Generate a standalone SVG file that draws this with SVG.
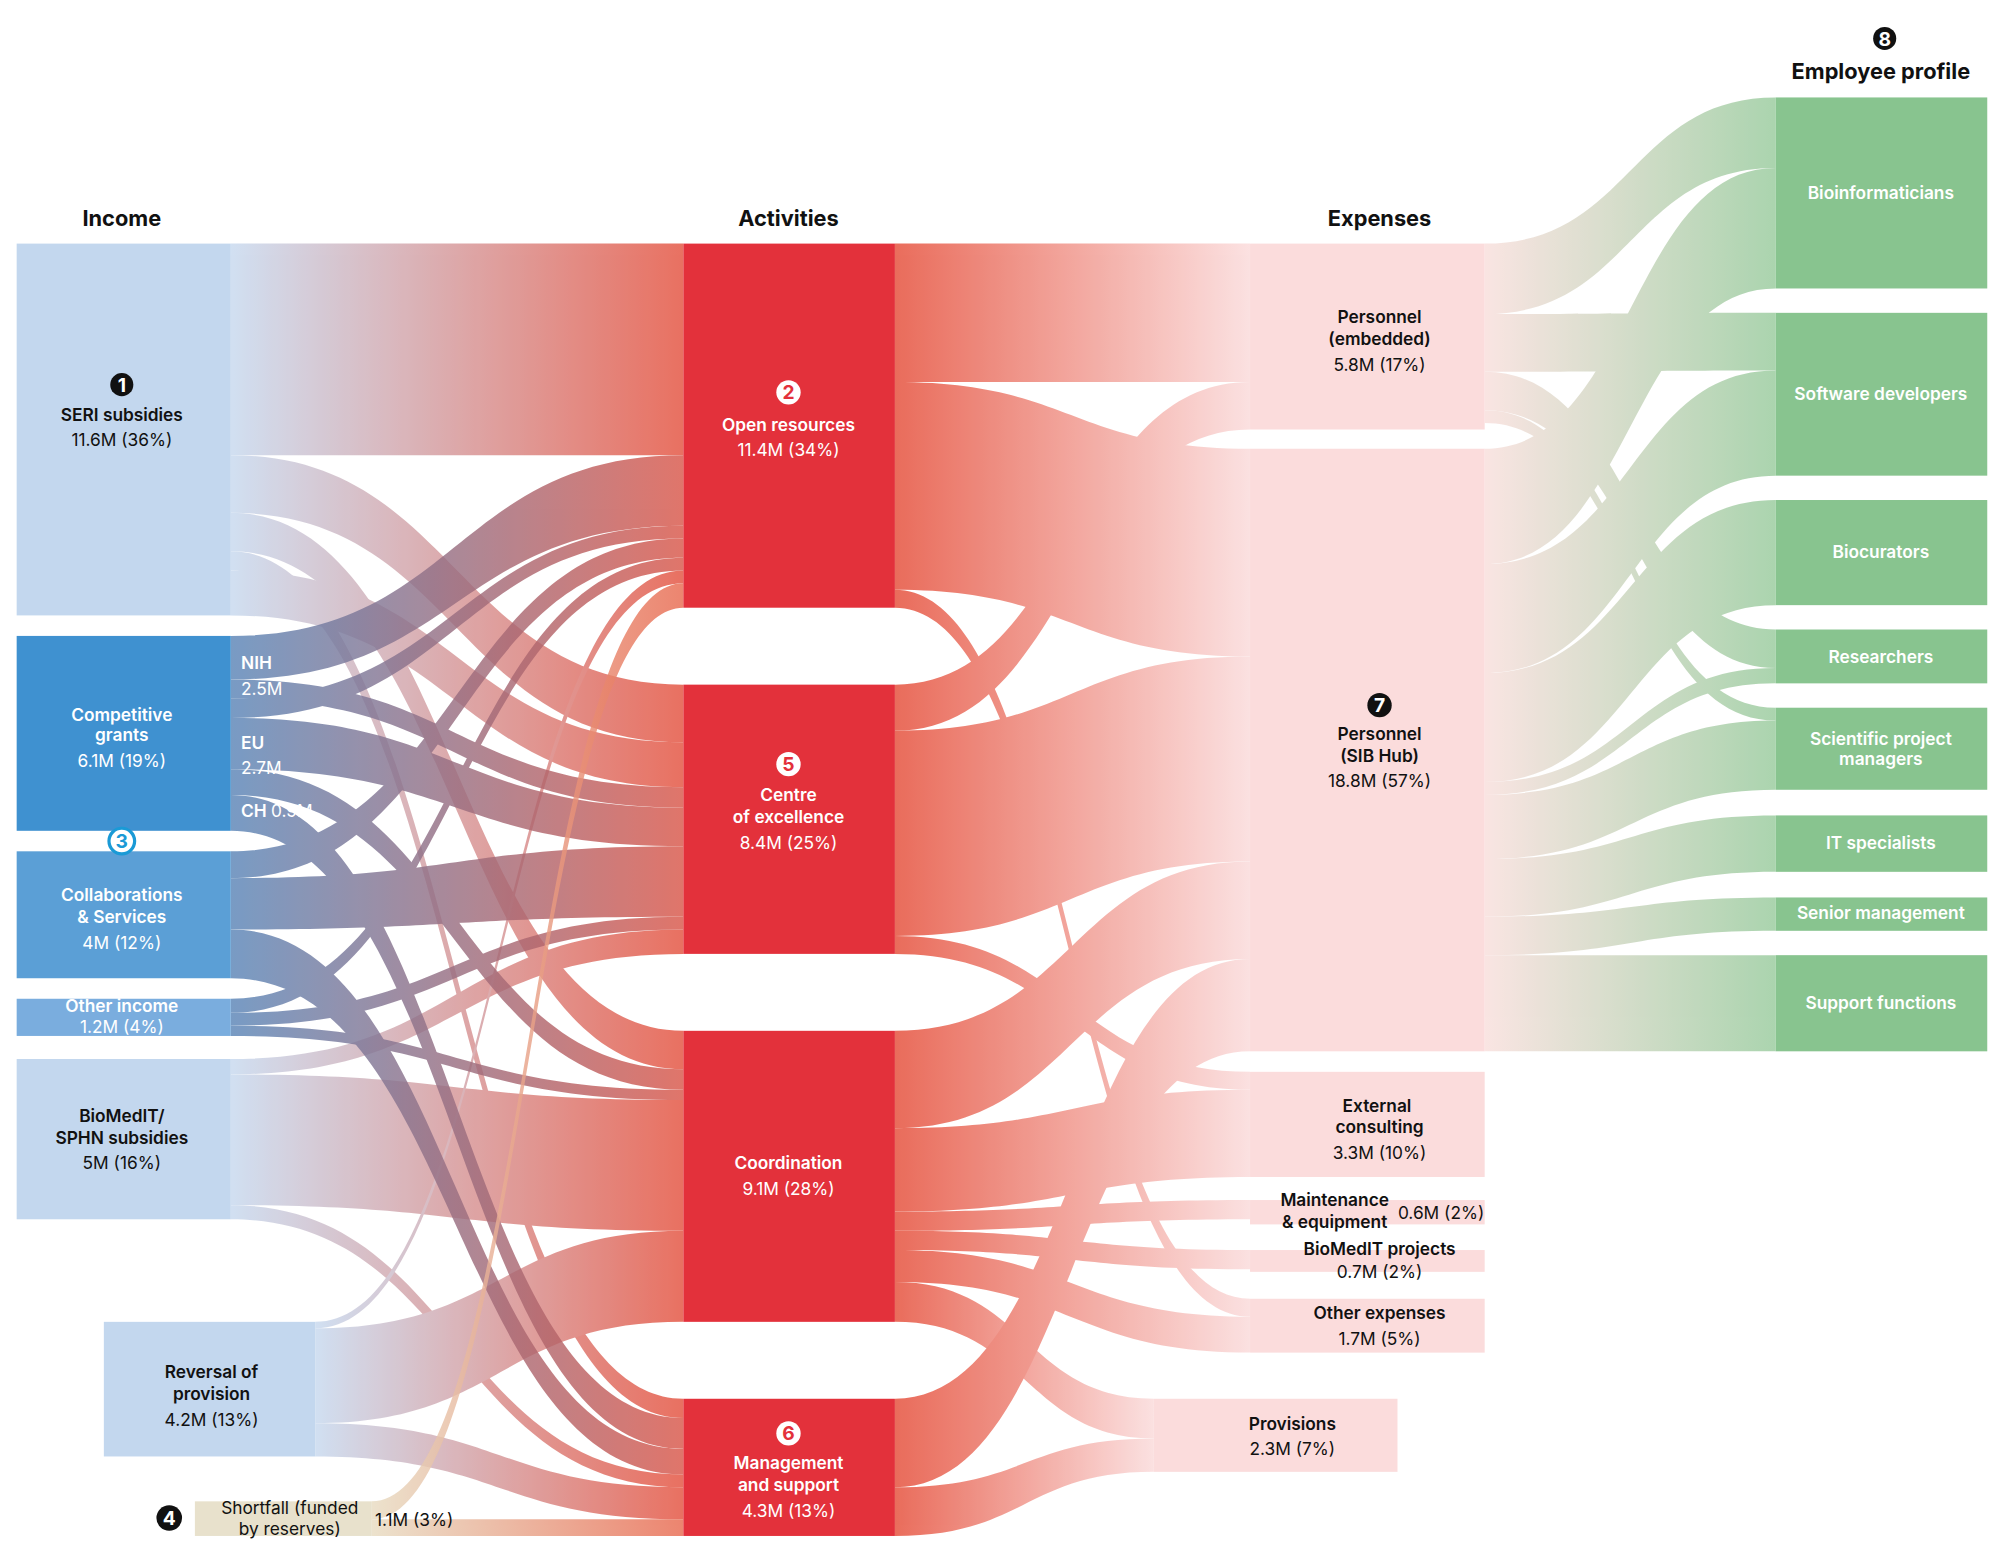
<svg xmlns="http://www.w3.org/2000/svg" width="2000" height="1560" viewBox="0 0 2000 1560">
<style>
text{font-family:Inter,"Liberation Sans",Arial,sans-serif;text-anchor:middle}
.h{font-size:17px;font-weight:700;fill:#111}
.l{font-size:13.5px;font-weight:600;fill:#111}
.v{font-size:13.5px;fill:#111}
.lw{font-size:13.5px;font-weight:600;fill:#fff}
.vw{font-size:13.5px;fill:#fff}
.fi{opacity:.82}
.fe{opacity:.85}
.fp{opacity:.75}
.nb{font-size:15px;font-weight:700;fill:#fff}
.nr{font-size:15px;font-weight:700;fill:#e3313b}
</style>
<defs>
<linearGradient id="gL"><stop offset="0" stop-color="#c7d9ef"/><stop offset="1" stop-color="#e4523f"/></linearGradient>
<linearGradient id="gD"><stop offset="0" stop-color="#5b86b8"/><stop offset="1" stop-color="#d9574a"/></linearGradient>
<linearGradient id="gS"><stop offset="0" stop-color="#e8dcc2"/><stop offset="1" stop-color="#e86a50"/></linearGradient>
<linearGradient id="gE"><stop offset="0" stop-color="#e6533f"/><stop offset="1" stop-color="#fbdcdc"/></linearGradient>
<linearGradient id="gP"><stop offset="0" stop-color="#f8dcd9"/><stop offset="1" stop-color="#8fc694"/></linearGradient>
</defs>
<g transform="scale(1.2821)">
<g id="connectors">
<g fill="url(#gL)" class="fi">
<path d="M180 190 L533 190 L533 355 L180 355 Z"/>
<path d="M180 355 C356 355 356 534 533 534 L533 579 C356 579 356 400 180 400 Z"/>
<path d="M180 400 C356 400 356 804 533 804 L533 834 C356 834 356 430 180 430 Z"/>
<path d="M180 430 C356 430 356 1091 533 1091 L533 1106 C356 1106 356 445 180 445 Z"/>
<path d="M180 445 C356 445 356 579 533 579 L533 614 C356 614 356 480 180 480 Z"/>
<path d="M180 826 C356 826 356 725 533 725 L533 744 C356 744 356 838 180 838 Z"/>
<path d="M180 838 C356 838 356 858 533 858 L533 960 C356 960 356 940 180 940 Z"/>
<path d="M180 940 C356 940 356 1150 533 1150 L533 1160 C356 1160 356 951 180 951 Z"/>
<path d="M246 1031 C390 1031 390 445 533 445 L533 455 C390 455 390 1036 246 1036 Z"/>
<path d="M246 1036 C390 1036 390 960 533 960 L533 1031 C390 1031 390 1110 246 1110 Z"/>
<path d="M246 1110 C390 1110 390 1160 533 1160 L533 1185 C390 1185 390 1136 246 1136 Z"/>
</g>
<g fill="url(#gD)" class="fi">
<path d="M180 496 C356 496 356 355 533 355 L533 410 C356 410 356 530 180 530 Z"/>
<path d="M180 530 C356 530 356 614 533 614 L533 630 C356 630 356 545 180 545 Z"/>
<path d="M180 545 C356 545 356 410 533 410 L533 420 C356 420 356 560 180 560 Z"/>
<path d="M180 560 C356 560 356 630 533 630 L533 660 C356 660 356 600 180 600 Z"/>
<path d="M180 600 C356 600 356 834 533 834 L533 850 C356 850 356 620 180 620 Z"/>
<path d="M180 620 C356 620 356 1106 533 1106 L533 1130 C356 1130 356 648 180 648 Z"/>
<path d="M180 664 C356 664 356 420 533 420 L533 435 C356 435 356 685 180 685 Z"/>
<path d="M180 685 C356 685 356 660 533 660 L533 715 C356 715 356 725 180 725 Z"/>
<path d="M180 725 C356 725 356 1130 533 1130 L533 1150 C356 1150 356 763 180 763 Z"/>
<path d="M180 779 C356 779 356 435 533 435 L533 445 C356 445 356 790 180 790 Z"/>
<path d="M180 790 C356 790 356 715 533 715 L533 725 C356 725 356 800 180 800 Z"/>
<path d="M180 800 C356 800 356 850 533 850 L533 858 C356 858 356 808 180 808 Z"/>
</g>
<g fill="url(#gS)" class="fi">
<path d="M290 1171 C412 1171 412 455 533 455 L533 474 C412 474 412 1185 290 1185 Z"/>
<path d="M290 1185 C412 1185 412 1185 533 1185 L533 1198 C412 1198 412 1198 290 1198 Z"/>
</g>
<g fill="url(#gE)" class="fe">
<path d="M698 190 L975 190 L975 298 L698 298 Z"/>
<path d="M698 298 C836 298 836 350 975 350 L975 512 C836 512 836 460 698 460 Z"/>
<path d="M698 460 C836 460 836 1013 975 1013 L975 1027 C836 1027 836 474 698 474 Z"/>
<path d="M698 534 C836 534 836 298 975 298 L975 335 C836 335 836 570 698 570 Z"/>
<path d="M698 570 C836 570 836 512 975 512 L975 672 C836 672 836 730 698 730 Z"/>
<path d="M698 730 C836 730 836 836 975 836 L975 850 C836 850 836 744 698 744 Z"/>
<path d="M698 804 C836 804 836 672 975 672 L975 748 C836 748 836 880 698 880 Z"/>
<path d="M698 880 C836 880 836 850 975 850 L975 918 C836 918 836 945 698 945 Z"/>
<path d="M698 945 C836 945 836 936 975 936 L975 951 C836 951 836 960 698 960 Z"/>
<path d="M698 960 C836 960 836 975 975 975 L975 990 C836 990 836 975 698 975 Z"/>
<path d="M698 975 C836 975 836 1027 975 1027 L975 1055 C836 1055 836 1000 698 1000 Z"/>
<path d="M698 1000 C800 1000 800 1091 900 1091 L900 1122 C800 1122 800 1031 698 1031 Z"/>
<path d="M698 1091 C836 1091 836 748 975 748 L975 820 C836 820 836 1160 698 1160 Z"/>
<path d="M698 1160 C800 1160 800 1122 900 1122 L900 1148 C800 1148 800 1198 698 1198 Z"/>
</g>
<g fill="url(#gP)" class="fp">
<path d="M1158 190 C1272 190 1272 76 1385 76 L1385 131 C1272 131 1272 245 1158 245 Z"/>
<path d="M1158 245 C1272 245 1272 244 1385 244 L1385 289 C1272 289 1272 290 1158 290 Z"/>
<path d="M1158 290 C1272 290 1272 491 1385 491 L1385 521 C1272 521 1272 320 1158 320 Z"/>
<path d="M1158 320 C1272 320 1272 552 1385 552 L1385 562 C1272 562 1272 330 1158 330 Z"/>
<path d="M1158 350 C1272 350 1272 131 1385 131 L1385 225 C1272 225 1272 440 1158 440 Z"/>
<path d="M1158 440 C1272 440 1272 289 1385 289 L1385 371 C1272 371 1272 525 1158 525 Z"/>
<path d="M1158 525 C1272 525 1272 390 1385 390 L1385 472 C1272 472 1272 610 1158 610 Z"/>
<path d="M1158 610 C1272 610 1272 521 1385 521 L1385 533 C1272 533 1272 620 1158 620 Z"/>
<path d="M1158 620 C1272 620 1272 562 1385 562 L1385 616 C1272 616 1272 670 1158 670 Z"/>
<path d="M1158 670 C1272 670 1272 636 1385 636 L1385 680 C1272 680 1272 715 1158 715 Z"/>
<path d="M1158 715 C1272 715 1272 700 1385 700 L1385 726 C1272 726 1272 745 1158 745 Z"/>
<path d="M1158 745 C1272 745 1272 745 1385 745 L1385 820 C1272 820 1272 820 1158 820 Z"/>
</g>
</g>
<text class="h" x="95" y="176">Income</text>
<text class="h" x="615" y="176">Activities</text>
<text class="h" x="1076" y="176">Expenses</text>
<g id="n8"><circle cx="1470" cy="30" r="9" fill="#111"/><text class="nb" x="1470" y="35.5">8</text><text class="h" x="1467" y="62">Employee profile</text></g>
<g id="seri"><rect x="13" y="190" width="167" height="290" fill="#c3d7ee"/><circle cx="95" cy="300" r="9" fill="#111"/><text class="nb" x="95" y="305.5">1</text><text class="l" x="95" y="328">SERI subsidies</text><text class="v" x="95" y="348">11.6M (36%)</text></g>
<g id="grants"><rect x="13" y="496" width="167" height="152" fill="#3f91d0"/><text class="lw" x="95" y="562">Competitive</text><text class="lw" x="95" y="578">grants</text><text class="vw" x="95" y="598">6.1M (19%)</text>
<text class="lw" x="188" y="522" style="text-anchor:start">NIH</text><text class="vw" x="188" y="542" style="text-anchor:start">2.5M</text>
<text class="lw" x="188" y="584" style="text-anchor:start">EU</text><text class="vw" x="188" y="604" style="text-anchor:start">2.7M</text>
<text class="lw" x="188" y="637" style="text-anchor:start">CH <tspan style="font-weight:400">0.9M</tspan></text></g>
<g id="collab"><rect x="13" y="664" width="167" height="99" fill="#5b9fd6"/><circle cx="95" cy="656" r="10" fill="#fff" stroke="#1a9ad6" stroke-width="2.5"/><text x="95" y="661.5" style="font-size:15px;font-weight:700;fill:#1a9ad6">3</text><text class="lw" x="95" y="703">Collaborations</text><text class="lw" x="95" y="720">&amp; Services</text><text class="vw" x="95" y="740">4M (12%)</text></g>
<g id="other"><rect x="13" y="779" width="167" height="29" fill="#7aadde"/><text class="lw" x="95" y="789">Other income</text><text class="vw" x="95" y="806">1.2M (4%)</text></g>
<g id="biomedit"><rect x="13" y="826" width="167" height="125" fill="#c3d7ee"/><text class="l" x="95" y="875">BioMedIT/</text><text class="l" x="95" y="892">SPHN subsidies</text><text class="v" x="95" y="912">5M (16%)</text></g>
<g id="reversal"><rect x="81" y="1031" width="165" height="105" fill="#c3d7ee"/><text class="l" x="165" y="1075">Reversal of</text><text class="l" x="165" y="1092">provision</text><text class="v" x="165" y="1112">4.2M (13%)</text></g>
<g id="shortfall"><rect x="152" y="1171" width="138" height="27" fill="#e8e1cc"/><circle cx="132" cy="1184" r="10" fill="#111"/><text class="nb" x="132" y="1189.5">4</text><text class="v" x="226" y="1181">Shortfall (funded</text><text class="v" x="226" y="1197">by reserves)</text><text class="v" x="323" y="1190">1.1M (3%)</text></g>
<g id="open"><rect x="533" y="190" width="165" height="284" fill="#e3313b"/><circle cx="615" cy="306" r="9.5" fill="#fff"/><text class="nr" x="615" y="311.5">2</text><text class="lw" x="615" y="336">Open resources</text><text class="vw" x="615" y="356">11.4M (34%)</text></g>
<g id="centre"><rect x="533" y="534" width="165" height="210" fill="#e3313b"/><circle cx="615" cy="596" r="9.5" fill="#fff"/><text class="nr" x="615" y="601.5">5</text><text class="lw" x="615" y="625">Centre</text><text class="lw" x="615" y="642">of excellence</text><text class="vw" x="615" y="662">8.4M (25%)</text></g>
<g id="coord"><rect x="533" y="804" width="165" height="227" fill="#e3313b"/><text class="lw" x="615" y="912">Coordination</text><text class="vw" x="615" y="932">9.1M (28%)</text></g>
<g id="mgmt"><rect x="533" y="1091" width="165" height="107" fill="#e3313b"/><circle cx="615" cy="1118" r="9.5" fill="#fff"/><text class="nr" x="615" y="1123.5">6</text><text class="lw" x="615" y="1146">Management</text><text class="lw" x="615" y="1163">and support</text><text class="vw" x="615" y="1183">4.3M (13%)</text></g>
<g id="emb"><rect x="975" y="190" width="183" height="145" fill="#fbdcdc"/><text class="l" x="1076" y="252">Personnel</text><text class="l" x="1076" y="269">(embedded)</text><text class="v" x="1076" y="289">5.8M (17%)</text></g>
<g id="sib"><rect x="975" y="350" width="183" height="470" fill="#fbdcdc"/><circle cx="1076" cy="550" r="9.5" fill="#111"/><text class="nb" x="1076" y="555.5">7</text><text class="l" x="1076" y="577">Personnel</text><text class="l" x="1076" y="594">(SIB Hub)</text><text class="v" x="1076" y="614">18.8M (57%)</text></g>
<g id="ext"><rect x="975" y="836" width="183" height="82" fill="#fbdcdc"/><text class="l" x="1074" y="867">External</text><text class="l" x="1076" y="884">consulting</text><text class="v" x="1076" y="904">3.3M (10%)</text></g>
<g id="maint"><rect x="975" y="936" width="183" height="19" fill="#fbdcdc"/><text class="l" x="1041" y="941">Maintenance</text><text class="l" x="1041" y="958">&amp; equipment</text><text class="v" x="1124" y="951">0.6M (2%)</text></g>
<g id="bmp"><rect x="975" y="975" width="183" height="17" fill="#fbdcdc"/><text class="l" x="1076" y="979">BioMedIT projects</text><text class="v" x="1076" y="997">0.7M (2%)</text></g>
<g id="oth"><rect x="975" y="1013" width="183" height="42" fill="#fbdcdc"/><text class="l" x="1076" y="1029">Other expenses</text><text class="v" x="1076" y="1049">1.7M (5%)</text></g>
<g id="prov"><rect x="900" y="1091" width="190" height="57" fill="#fbdcdc"/><text class="l" x="1008" y="1115">Provisions</text><text class="v" x="1008" y="1135">2.3M (7%)</text></g>
<g id="bioinf"><rect x="1385" y="76" width="165" height="149" fill="#88c48f"/><text class="lw" x="1467" y="155">Bioinformaticians</text></g>
<g id="soft"><rect x="1385" y="244" width="165" height="127" fill="#88c48f"/><text class="lw" x="1467" y="312">Software developers</text></g>
<g id="bioc"><rect x="1385" y="390" width="165" height="82" fill="#88c48f"/><text class="lw" x="1467" y="435">Biocurators</text></g>
<g id="res"><rect x="1385" y="491" width="165" height="42" fill="#88c48f"/><text class="lw" x="1467" y="517">Researchers</text></g>
<g id="spm"><rect x="1385" y="552" width="165" height="64" fill="#88c48f"/><text class="lw" x="1467" y="581">Scientific project</text><text class="lw" x="1467" y="597">managers</text></g>
<g id="it"><rect x="1385" y="636" width="165" height="44" fill="#88c48f"/><text class="lw" x="1467" y="662">IT specialists</text></g>
<g id="senior"><rect x="1385" y="700" width="165" height="26" fill="#88c48f"/><text class="lw" x="1467" y="717">Senior management</text></g>
<g id="support"><rect x="1385" y="745" width="165" height="75" fill="#88c48f"/><text class="lw" x="1467" y="787">Support functions</text></g>
</g>
</svg>
